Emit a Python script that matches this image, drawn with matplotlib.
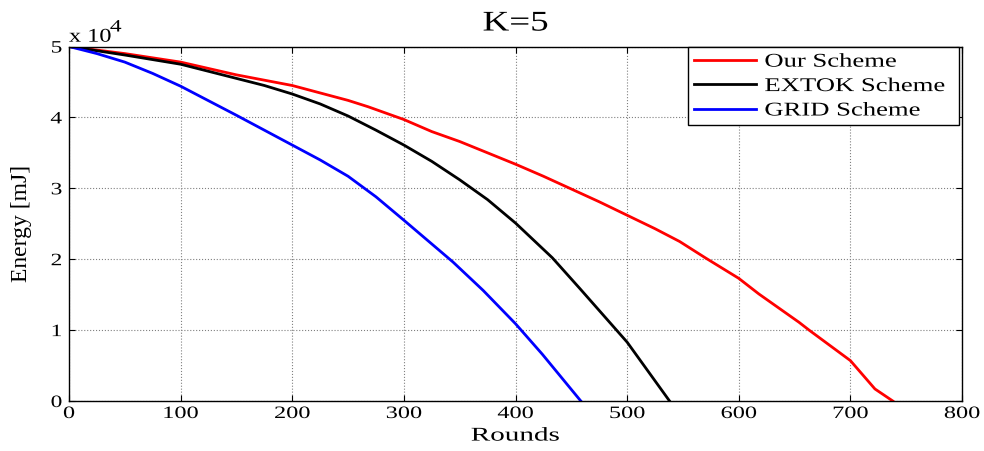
import matplotlib
matplotlib.use("Agg")
import numpy as np
import matplotlib.pyplot as plt
from matplotlib.ticker import MultipleLocator
from matplotlib.patheffects import AbstractPathEffect
from matplotlib.transforms import Affine2D

plt.rcParams['font.family'] = ['Liberation Serif', 'DejaVu Serif']

# Energy in units of 10^4 mJ
our_x = [0, 50, 100, 150, 200, 250, 268, 300, 325, 350, 375, 400, 425, 450, 475, 500, 525, 547, 570, 600, 618, 654, 663, 700, 722, 738]
our_y = [5.0, 4.90, 4.78, 4.60, 4.45, 4.24, 4.15, 3.97, 3.80, 3.66, 3.50, 3.34, 3.17, 2.99, 2.81, 2.62, 2.43, 2.25, 2.02, 1.73, 1.51, 1.11, 1.00, 0.57, 0.17, 0.0]

extok_x = [0, 50, 100, 150, 175, 200, 225, 250, 275, 300, 325, 350, 375, 400, 433, 458, 500, 538]
extok_y = [5.0, 4.88, 4.75, 4.55, 4.45, 4.33, 4.19, 4.02, 3.82, 3.61, 3.38, 3.12, 2.84, 2.51, 2.02, 1.58, 0.83, 0.0]

grid_x = [0, 25, 50, 75, 100, 150, 200, 225, 250, 275, 300, 344, 371, 400, 424, 458.5]
grid_y = [5.0, 4.90, 4.78, 4.62, 4.44, 4.03, 3.61, 3.40, 3.17, 2.88, 2.55, 1.96, 1.56, 1.09, 0.66, 0.0]

labels = ["Our Scheme", "EXTOK Scheme", "GRID Scheme"]
colors = ["red", "black", "blue"]


class HStretch(AbstractPathEffect):
    """Widen glyphs horizontally about an anchor (left/center/right)."""
    def __init__(self, sx, anchor='center'):
        super().__init__()
        self.sx = sx
        self.anchor = anchor

    def draw_path(self, renderer, gc, tpath, affine, rgbFace=None):
        verts = tpath.vertices
        if tpath.codes is not None:
            verts = verts[tpath.codes != 79]
        if len(verts) == 0:
            renderer.draw_path(gc, tpath, affine, rgbFace)
            return
        pts = affine.transform(verts)
        x0, x1 = pts[:, 0].min(), pts[:, 0].max()
        if self.anchor == 'left':
            xc = x0
        elif self.anchor == 'right':
            xc = x1
        else:
            xc = 0.5 * (x0 + x1)
        new_aff = affine + Affine2D().translate(-xc, 0).scale(self.sx, 1).translate(xc, 0)
        renderer.draw_path(gc, tpath, new_aff, rgbFace)


fig = plt.figure(figsize=(9.84, 4.51), dpi=100)
ax = fig.add_axes([69/984, 1 - 401/451, (962-69)/984, (401-46.5)/451])

ax.plot(our_x, our_y, color=colors[0], lw=2.0, label=labels[0])
ax.plot(extok_x, extok_y, color=colors[1], lw=2.0, label=labels[1])
ax.plot(grid_x, grid_y, color=colors[2], lw=2.0, label=labels[2])

ax.set_xlim(0, 800)
ax.set_ylim(0, 5)
ax.xaxis.set_major_locator(MultipleLocator(100))
ax.yaxis.set_major_locator(MultipleLocator(1))
ax.tick_params(direction='in', top=True, right=True, labelsize=12.5, length=4)
ax.tick_params(axis='x', pad=3.6)
ax.tick_params(axis='y', pad=5)
ax.grid(True, color='#808080', linestyle=':', linewidth=0.8)
for s in ax.spines.values():
    s.set_linewidth(1.0)

t = ax.set_title("K=5", fontsize=20.5, pad=11.5)
t.set_path_effects([HStretch(1.3, 'center')])
xl = ax.set_xlabel("Rounds", fontsize=14)
xl.set_path_effects([HStretch(1.5, 'center')])
ax.xaxis.set_label_coords(0.5, -0.075)
ax.set_ylabel("Energy [mJ]", fontsize=17)
ax.yaxis.set_label_coords(-0.041, 0.5)

e1 = ax.text(0.0, (401-41.7)/354.5, "x 10", transform=ax.transAxes, fontsize=14,
             ha='left', va='baseline')
e1.set_path_effects([HStretch(1.25, 'left')])
e2 = ax.text((110-69)/893, (401-31.5)/354.5, "4", transform=ax.transAxes, fontsize=12.5,
             ha='left', va='baseline')
e2.set_path_effects([HStretch(1.35, 'left')])

leg = ax.legend(loc='upper right', bbox_to_anchor=(0.693, 0.5, 0.304, 0.498), mode='expand',
                fontsize=14, frameon=True, fancybox=False,
                edgecolor='black', framealpha=1, borderpad=0.3, labelspacing=0.35,
                handlelength=3.2, handletextpad=0.45, borderaxespad=0.0)
leg.get_frame().set_linewidth(1.0)
for txt in leg.get_texts():
    txt.set_path_effects([HStretch(1.37, 'left')])

fig.canvas.draw()
for lab in ax.get_xticklabels():
    lab.set_path_effects([HStretch(1.4, 'center')])
for lab in ax.get_yticklabels():
    lab.set_path_effects([HStretch(1.35, 'right')])

fig.savefig("out.png", dpi=100)
